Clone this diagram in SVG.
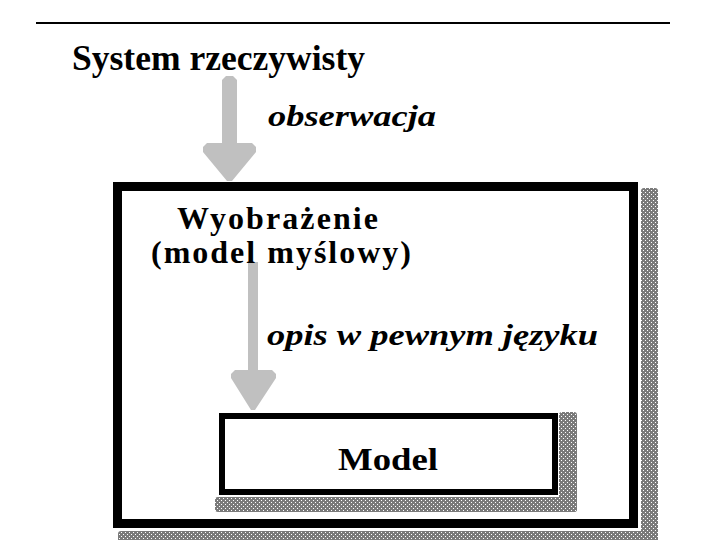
<svg xmlns="http://www.w3.org/2000/svg" width="720" height="540" viewBox="0 0 720 540">
  <defs>
    <pattern id="dots" x="0" y="0" width="4" height="4" patternUnits="userSpaceOnUse">
      <rect width="4" height="4" fill="#7a7a7a"/>
      <rect x="1" y="0" width="1" height="1" fill="#ffffff"/>
      <rect x="3" y="2" width="1" height="1" fill="#ffffff"/>
    </pattern>
    <style>
      .lbl { font-family: "Liberation Serif", "Times New Roman", serif; font-weight: bold; fill: #000; }
      .it { font-style: italic; }
      .shadow { fill: url(#dots); }
      .box { fill: #ffffff; stroke: #000000; }
      .arrow { fill: #c0c0c0; }
    </style>
  </defs>
  <rect width="720" height="540" fill="#ffffff"/>

  <g id="rule">
    <line x1="36" y1="23" x2="670" y2="23" stroke="#000" stroke-width="2"/>
  </g>

  <g id="system">
    <text class="lbl" x="72" y="70" font-size="35" textLength="293" lengthAdjust="spacingAndGlyphs">System rzeczywisty</text>
  </g>

  <g id="wyobrazenie">
    <rect class="shadow" x="641" y="188" width="17" height="352" rx="3"/>
    <rect class="shadow" x="118" y="531" width="540" height="12" rx="3"/>
    <rect class="box" x="117.5" y="186.5" width="516" height="337" stroke-width="9"/>
    <text class="lbl" x="177" y="229" font-size="32" textLength="201" lengthAdjust="spacing">Wyobrażenie</text>
  </g>

  <g id="model">
    <rect class="shadow" x="559" y="412" width="18" height="100" rx="3"/>
    <rect class="shadow" x="215" y="497" width="362" height="15" rx="3"/>
    <rect class="box" x="222" y="416" width="333" height="76" stroke-width="6"/>
    <text class="lbl" x="388" y="470" font-size="31" text-anchor="middle" textLength="100" lengthAdjust="spacingAndGlyphs">Model</text>
  </g>

  <g id="connectors">
    <path class="arrow" d="M222,80 L226,76 L233,76 L237,80 L237,143 L252,143 L256,147 L256,152 L232,181 L227,181 L203,152 L203,147 L207,143 L222,143 Z"/>
    <text class="lbl it" x="268" y="126" font-size="30" textLength="168" lengthAdjust="spacingAndGlyphs">obserwacja</text>
    <path class="arrow" d="M248,262 L258,262 L258,370 L272,370 L276,374 L276,378 L255,410 L251,410 L231,378 L231,374 L235,370 L248,370 Z"/>
    <text class="lbl it" x="267" y="345" font-size="30" textLength="331" lengthAdjust="spacingAndGlyphs">opis w pewnym języku</text>
  </g>

  <g id="wyobrazenie-label2">
    <text class="lbl" x="151" y="263" font-size="32" textLength="260" lengthAdjust="spacing">(model myślowy)</text>
  </g>
</svg>
